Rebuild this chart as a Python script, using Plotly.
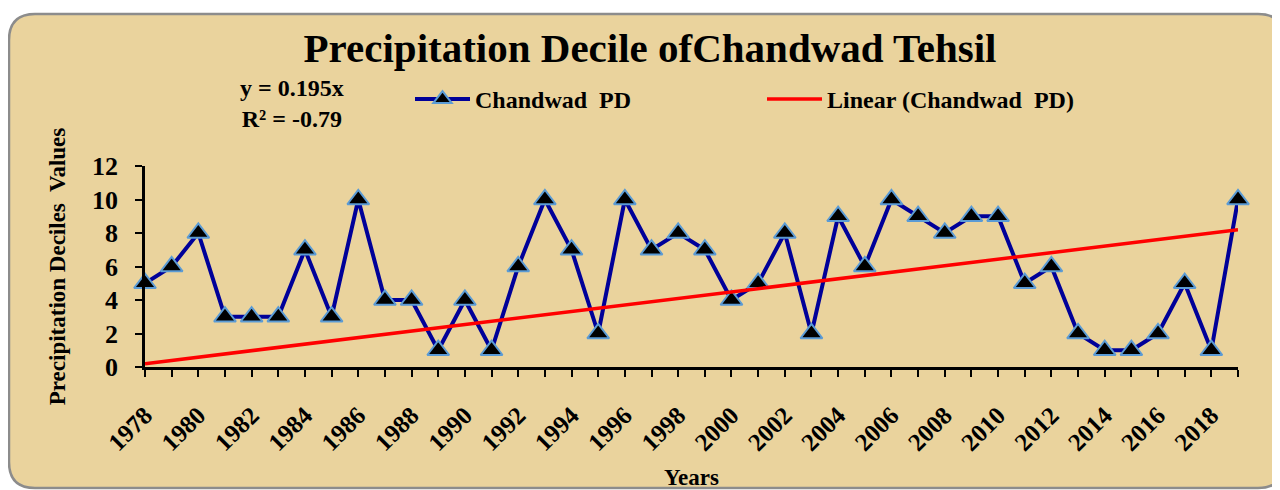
import plotly.graph_objects as go

# ---- data ----
years = list(range(1978, 2020))
pd_values = [5, 6, 8, 3, 3, 3, 7, 3, 10, 4, 4, 1, 4, 1, 6, 10, 7, 2, 10, 7,
             8, 7, 4, 5, 8, 2, 9, 6, 10, 9, 8, 9, 9, 5, 6, 2, 1, 1, 2, 5, 1, 10]
trend_slope = 0.195          # from "y = 0.195x" (x = 1..n)
r_squared_label = "-0.79"
y_ticks = [0, 2, 4, 6, 8, 10, 12]
x_ticktext = [str(y) if y % 2 == 0 else "" for y in years]

trend_x_index = list(range(1, len(years) + 1))
trend_values = [trend_slope * i for i in trend_x_index]

# page body has an 8px margin: build the figure in screen coordinates minus that offset
OFF = 8
W, H = 1280 - OFF, 490 - OFF
def px(x):
    return (x - OFF) / W
def py(y):
    return 1 - (y - OFF) / H

FONT = "Liberation Serif"
BG = "#EAD39D"

fig = go.Figure()
fig.add_trace(go.Scatter(
    x=years, y=pd_values, name="Chandwad  PD", mode="lines+markers",
    line=dict(color="#000099", width=4),
    marker=dict(symbol="triangle-up", size=19, color="black",
                line=dict(color="#5B9BD5", width=2)),
    cliponaxis=False,
))
fig.add_trace(go.Scatter(
    x=years, y=trend_values, name="Linear (Chandwad  PD)", mode="lines",
    line=dict(color="#FF0000", width=3.5),
    cliponaxis=False,
))

# rounded frame (right side runs off the canvas as in the original)
x0, y0, x1, y1, r = 9, 14, 1284, 488, 26
path = (f"M {px(x0 + r)},{py(y0)} L {px(x1 - r)},{py(y0)} "
        f"Q {px(x1)},{py(y0)} {px(x1)},{py(y0 + r)} "
        f"L {px(x1)},{py(y1 - r)} Q {px(x1)},{py(y1)} {px(x1 - r)},{py(y1)} "
        f"L {px(x0 + r)},{py(y1)} Q {px(x0)},{py(y1)} {px(x0)},{py(y1 - r)} "
        f"L {px(x0)},{py(y0 + r)} Q {px(x0)},{py(y0)} {px(x0 + r)},{py(y0)} Z")
fig.add_shape(type="path", path=path, xref="paper", yref="paper",
              fillcolor=BG, line=dict(color="#8C8C8C", width=2.5), layer="below")

fig.add_annotation(
    x=px(292), y=py(104), xref="paper", yref="paper",
    text=f"y = {trend_slope}x<br>R² = {r_squared_label}", showarrow=False,
    font=dict(family=FONT, size=24, color="black", weight="bold"),
    align="center", xanchor="center", yanchor="middle",
)

fig.update_layout(
    width=W, height=H,
    margin=dict(l=0, r=0, t=0, b=0, autoexpand=False),
    paper_bgcolor="white", plot_bgcolor="rgba(0,0,0,0)",
    title=dict(text="Precipitation Decile ofChandwad Tehsil",
               x=px(650), y=py(48), xanchor="center", yanchor="middle",
               xref="paper", yref="paper", automargin=False,
               font=dict(family=FONT, size=41, color="black", weight="bold")),
    legend=dict(orientation="h", x=px(410), y=py(77), xanchor="left", yanchor="top",
                bgcolor="rgba(0,0,0,0)", itemwidth=55,
                entrywidth=282, entrywidthmode="pixels",
                font=dict(family=FONT, size=24, color="black", weight="bold")),
    xaxis=dict(domain=[px(145), px(1238)], range=[1978, 2019], automargin=False,
               tickmode="array", tickvals=years, ticktext=x_ticktext,
               tickangle=-45, ticks="outside", ticklen=7, tickwidth=2, tickcolor="black",
               ticklabelstandoff=14,
               showline=True, linecolor="black", linewidth=2.5, showgrid=False, zeroline=False,
               tickfont=dict(family=FONT, size=25, color="black", weight="bold"),
               title=dict(text="Years", standoff=18,
                          font=dict(family=FONT, size=23, color="black", weight="bold"))),
    yaxis=dict(domain=[py(367), py(166)], range=[0, 12], automargin=False,
               tickmode="array", tickvals=y_ticks,
               ticks="outside", ticklen=7, tickwidth=2, tickcolor="black",
               ticklabelstandoff=12,
               showline=True, linecolor="black", linewidth=2.5, showgrid=False, zeroline=False,
               tickfont=dict(family=FONT, size=26, color="black", weight="bold"),
               title=dict(text="Precipitation Deciles  Values", standoff=20,
                          font=dict(family=FONT, size=23, color="black", weight="bold"))),
)

fig.write_html("out.html")
